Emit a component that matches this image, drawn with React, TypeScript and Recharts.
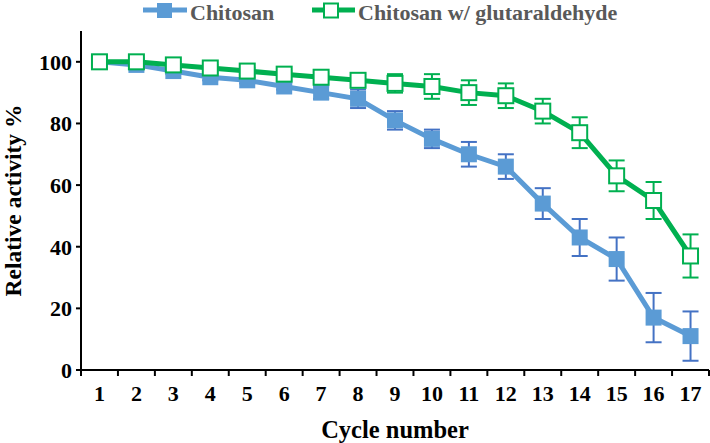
import React from "react";
import {
  LineChart,
  Line,
  XAxis,
  YAxis,
  ErrorBar,
} from "recharts";

// cycle numbers (x categories)
const cycles = [1, 2, 3, 4, 5, 6, 7, 8, 9, 10, 11, 12, 13, 14, 15, 16, 17];
// x ticks: labels on whole cycles, tick marks on the half steps between them
const xTicks = [0.5, 1, 1.5, 2, 2.5, 3, 3.5, 4, 4.5, 5, 5.5, 6, 6.5, 7, 7.5, 8, 8.5, 9, 9.5, 10, 10.5, 11, 11.5, 12, 12.5, 13, 13.5, 14, 14.5, 15, 15.5, 16, 16.5, 17, 17.5];
const yTicks = [0, 20, 40, 60, 80, 100];

const chitosan = [100, 99, 97, 95, 94, 92, 90, 88, 81, 75, 70, 66, 54, 43, 36, 17, 11];
const chitosanErr = [0, 1, 1, 1, 1, 1, 2, 3, 3, 3, 4, 4, 5, 6, 7, 8, 8];
const glut = [100, 100, 99, 98, 97, 96, 95, 94, 93, 92, 90, 89, 84, 77, 63, 55, 37];
const glutErr = [0, 0, 1, 1, 1, 1, 1, 2, 3, 4, 4, 4, 4, 5, 5, 6, 7];

const BLUE = "#5B9BD5";
const BLUE_BAR = "#4472C4";
const GREEN = "#00B050";
const FONT = "'Liberation Serif', 'Times New Roman', serif";
const X_TICK_OFFSET = 16; // tickSize + tickMargin on the x axis

const data = cycles.map((c, i) => ({
  cycle: c,
  ch: chitosan[i],
  chErr: chitosanErr[i],
  gl: glut[i],
  glErr: glutErr[i],
}));

const BlueDot = (p: any) => (
  <rect key={`b${p.index}`} x={p.cx - 8} y={p.cy - 8} width={16} height={16} fill={BLUE} />
);
const GreenDot = (p: any) => (
  <rect
    key={`g${p.index}`}
    x={p.cx - 7.5}
    y={p.cy - 7.5}
    width={15}
    height={15}
    fill="#fff"
    stroke={GREEN}
    strokeWidth={2}
  />
);

const tickStyle = { fontFamily: FONT, fontWeight: "bold", fontSize: 22, fill: "#000" };

// whole numbers get a label, half steps get a tick mark
const XTick = (props: any) => {
  const { x, y, payload } = props;
  const v = payload.value;
  if (!Number.isInteger(v)) {
    const y0 = y - X_TICK_OFFSET;
    return <line x1={x} x2={x} y1={y0} y2={y0 + 6} stroke="#000" strokeWidth={2} />;
  }
  return (
    <text x={x} y={y} dy={15} textAnchor="middle" style={tickStyle}>
      {v}
    </text>
  );
};

const YTitle = (props: any) => {
  const vb = props.viewBox;
  const cy = vb.y + vb.height / 2;
  return (
    <text
      x={21}
      y={cy}
      transform={`rotate(-90 21 ${cy})`}
      textAnchor="middle"
      style={{ fontFamily: FONT, fontWeight: "bold", fontSize: 23.5, fill: "#000" }}
    >
      Relative activity %
    </text>
  );
};

const XTitle = (props: any) => {
  const vb = props.viewBox;
  return (
    <text
      x={vb.x + vb.width / 2}
      y={438}
      textAnchor="middle"
      style={{ fontFamily: FONT, fontWeight: "bold", fontSize: 24.5, fill: "#000" }}
    >
      Cycle number
    </text>
  );
};

function LegendBox() {
  const text = { fontFamily: FONT, fontWeight: "bold" as const, fontSize: 22, fill: "#595959" };
  return (
    <svg width={710} height={28} style={{ position: "absolute", left: 0, top: 0 }}>
      <line x1={143} x2={187} y1={10} y2={10} stroke={BLUE} strokeWidth={5} />
      <rect x={157} y={3} width={15} height={15} fill={BLUE} />
      <text x={190} y={19.5} style={text}>Chitosan</text>
      <line x1={312} x2={355} y1={10} y2={10} stroke={GREEN} strokeWidth={5} />
      <rect x={324} y={3.5} width={14} height={14} fill="#fff" stroke={GREEN} strokeWidth={2} />
      <text x={358} y={19.5} style={text}>Chitosan w/ glutaraldehyde</text>
    </svg>
  );
}

export default function App() {
  return (
    <div style={{ position: "relative", width: 710, height: 443, background: "#fff" }}>
      <style>{`body{margin:0}`}</style>
      <LineChart
        width={710}
        height={443}
        data={data}
        margin={{ top: 31, right: 1, bottom: 0, left: 0 }}
      >
        <XAxis
          dataKey="cycle"
          type="number"
          domain={[0.5, 17.5]}
          ticks={xTicks}
          interval={0}
          tickLine={false}
          tickSize={8}
          tickMargin={8}
          height={73}
          stroke="#000"
          strokeWidth={2}
          tick={XTick}
          label={{ content: XTitle }}
        />
        <YAxis
          width={81}
          domain={[0, 110]}
          ticks={yTicks}
          tickSize={5}
          tickMargin={4}
          stroke="#000"
          strokeWidth={2}
          tick={tickStyle}
          label={{ content: YTitle }}
        />
        <Line
          type="linear"
          dataKey="ch"
          stroke={BLUE}
          strokeWidth={5}
          dot={BlueDot}
          activeDot={false}
          isAnimationActive={false}
        >
          <ErrorBar dataKey="chErr" direction="y" width={8} strokeWidth={2} stroke={BLUE_BAR} />
        </Line>
        <Line
          type="linear"
          dataKey="gl"
          stroke={GREEN}
          strokeWidth={5}
          dot={GreenDot}
          activeDot={false}
          isAnimationActive={false}
        >
          <ErrorBar dataKey="glErr" direction="y" width={8} strokeWidth={2} stroke={GREEN} />
        </Line>
      </LineChart>
      <LegendBox />
    </div>
  );
}
